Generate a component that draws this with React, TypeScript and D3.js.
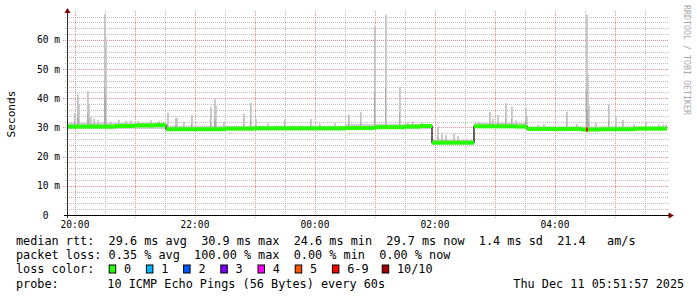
import React from "react";
import * as d3 from "d3";

// ---- data (ms) ----
const START = "19:52";
const END = "05:52";

// median rtt steps: [start time, median ms]
const medianTimes = ["19:52","20:40","21:00","21:20","21:31","22:30","23:00","00:30","01:00","01:30","01:45","01:57","02:39","03:20","03:32","04:26","04:45","05:20"];
const medianValues = [30.3, 30.5, 30.7, 30.8, 29.4, 29.6, 29.7, 29.8, 30.1, 30.3, 30.5, 24.8, 30.4, 30.3, 29.5, 29.3, 29.4, 29.6];

// smoke band (min/max of pings) per period
const bandTimes = ["19:52","21:31","00:30","01:57","02:39","03:32"];
const bandLo = [29.5, 29.0, 29.4, 24.2, 29.8, 29.0];
const bandHi = [31.6, 30.6, 31.2, 25.8, 31.6, 30.4];

// smoke spikes: time, max ping ms
const spikeTimes = ["19:59","20:02","20:03","20:12","20:13","20:15","20:18","20:22","20:29","20:30","20:35","20:43","20:50","20:55","21:02","21:15","21:23","21:32","21:40","21:41","21:48","21:56","22:15","22:19","22:20","22:28","22:48","22:55","23:00","23:12","23:29","23:55","00:04","00:19","00:33","00:45","00:59","01:10","01:24","01:32","01:37","01:46","02:02","02:06","02:10","02:18","02:22","02:31","02:43","02:54","02:57","03:02","03:10","03:16","03:20","03:30","03:31","03:42","03:48","04:11","04:21","04:31","04:32","04:33","04:40","04:53","05:00","05:07","05:18","05:30","05:43","05:47","05:50"];
const spikeValues = [35.0, 41.4, 38.0, 42.5, 38.0, 33.5, 33.0, 32.5, 68.8, 60.6, 32.0, 32.6, 32.3, 32.4, 32.2, 32.5, 32.2, 35.1, 33.2, 33.4, 32.0, 34.3, 37.1, 39.7, 37.5, 32.0, 34.7, 38.5, 33.0, 31.4, 32.8, 32.9, 31.4, 31.4, 34.5, 35.2, 64.6, 68.6, 44.0, 32.0, 32.0, 31.6, 30.3, 28.0, 27.5, 28.0, 27.0, 26.0, 32.0, 35.4, 33.0, 34.3, 38.3, 37.1, 32.5, 36.8, 34.0, 30.9, 31.2, 35.4, 31.2, 68.6, 48.3, 37.4, 31.5, 37.9, 33.7, 32.6, 31.0, 32.0, 31.0, 31.0, 31.0];

// loss markers on median
const lossTimes = ["04:31"];
const lossLevels = [6];

const yTicksMajor = [0, 10, 20, 30, 40, 50, 60];

const lossLabels = ["0", "1", "2", "3", "4", "5", "6-9", "10/10"];
const lossColors = ["#26ff00", "#00b8ff", "#0059ff", "#7e00ff", "#ff00ff", "#ff5500", "#ff0000", "#a10000"];

const statsLine1 = "median rtt:  29.6 ms avg  30.9 ms max  24.6 ms min  29.7 ms now  1.4 ms sd  21.4   am/s";
const statsLine2 = "packet loss: 0.35 % avg  100.00 % max  0.00 % min  0.00 % now";
const probeLabel = "probe:";
const probeText = "10 ICMP Echo Pings (56 Bytes) every 60s";
const dateText = "Thu Dec 11 05:51:57 2025";

const parseT = (s: string) => {
  const [h, m] = s.split(":").map(Number);
  const day = h >= 12 ? 10 : 11;
  return new Date(Date.UTC(2025, 11, day, h, m));
};

const W = 697, H = 297;
const mono = "'DejaVu Sans Mono', monospace";

export default function App() {
  const t0 = parseT(START), t1 = parseT(END);
  const x = d3.scaleUtc().domain([t0, t1]).range([67, 667]);
  const y = d3.scaleLinear().domain([0, 70]).range([215, 10.8]);
  const minute = (d: Date) => new Date(d.getTime() + 60000);

  const minorY = y.ticks(35).filter((v) => v % 10 !== 0 && v < 70);
  const majorY = y.ticks(7).filter((v) => v > 0 && v < 70);
  const minorX = x.ticks(d3.utcMinute.every(30)!).filter((d) => d.getUTCMinutes() !== 0);
  const majorX = x.ticks(d3.utcHour.every(1)!);
  const labelX = x.ticks(d3.utcHour.every(2)!);

  const medT = medianTimes.map(parseT);
  const bT = bandTimes.map(parseT);
  const segEnd = (arr: Date[], i: number) => (i + 1 < arr.length ? arr[i + 1] : t1);
  const bandAt = (d: Date) => {
    let idx = 0;
    bT.forEach((b, i) => { if (b <= d) idx = i; });
    return idx;
  };
  const medAt = (d: Date) => {
    let idx = 0;
    medT.forEach((b, i) => { if (b <= d) idx = i; });
    return medianValues[idx];
  };

  const medPts: [Date, number][] = medT.map((d, i) => [d, medianValues[i]]);
  medPts.push([t1, medianValues[medianValues.length - 1]]);
  const medLine = d3.line<[Date, number]>().x((p) => x(p[0])).y((p) => y(p[1])).curve(d3.curveStepAfter)(medPts) || "";

  const fmtX = d3.utcFormat("%H:%M");
  const halfBand = 2;
  const pre = { whiteSpace: "pre" } as React.CSSProperties;

  return (
    <svg width={W} height={H} style={{ position: "absolute", left: 0, top: 0, background: "#fff" }}>
      <rect x={0} y={0} width={W} height={H} fill="#fff" />
      {/* minor grid */}
      <g stroke="#bdbdbd" strokeWidth={1} strokeDasharray="1,1">
        {minorY.map((v) => (
          <line key={"my" + v} x1={65} x2={668} y1={Math.round(y(v)) + 0.5} y2={Math.round(y(v)) + 0.5} />
        ))}
        {minorX.map((d) => (
          <line key={"mx" + d.getTime()} x1={Math.round(x(d)) + 0.5} x2={Math.round(x(d)) + 0.5} y1={11} y2={217} />
        ))}
      </g>
      {/* major grid */}
      <g stroke="#ee9090" strokeWidth={1} strokeDasharray="1,1">
        {majorY.map((v) => (
          <line key={"My" + v} x1={63} x2={668} y1={Math.round(y(v)) + 0.5} y2={Math.round(y(v)) + 0.5} />
        ))}
        {majorX.map((d) => (
          <line key={"Mx" + d.getTime()} x1={Math.round(x(d)) + 0.5} x2={Math.round(x(d)) + 0.5} y1={11} y2={219} />
        ))}
      </g>

      {/* smoke band */}
      <g fill="#cfcfcf">
        {bT.map((d, i) => (
          <rect key={"b" + i} x={x(d)} width={x(segEnd(bT, i)) - x(d)} y={y(bandHi[i])} height={y(bandLo[i]) - y(bandHi[i])} />
        ))}
      </g>
      {/* smoke spikes */}
      <g>
        {spikeTimes.map((s, i) => {
          const d = parseT(s);
          const bi = bandAt(d);
          const base = Math.min(bandHi[bi], medAt(d));
          const top = spikeValues[i];
          const x0 = x(d), x1 = x(minute(d));
          const mid = Math.min(top, base + (top - base) * 0.35);
          return (
            <g key={"s" + i}>
              <rect x={x0} width={x1 - x0 + 0.8} y={y(top)} height={y(base) - y(top)} fill="#c4c4c4" />
              <rect x={x0} width={x1 - x0} y={y(mid)} height={y(base) - y(mid)} fill="#ababab" />
            </g>
          );
        })}
      </g>

      {/* median line */}
      <path d={medLine} fill="none" stroke="#000" strokeWidth={1.2} />
      {/* loss-colored median band */}
      <g fill={lossColors[0]}>
        {medT.map((d, i) => (
          <rect key={"m" + i} x={x(d)} width={x(segEnd(medT, i)) - x(d)} y={y(medianValues[i]) - halfBand} height={halfBand * 2} />
        ))}
      </g>
      {lossTimes.map((s, i) => {
        const d = parseT(s);
        const v = medAt(d);
        return <rect key={"l" + i} x={x(d)} width={x(minute(minute(d))) - x(d)} y={y(v) - halfBand} height={halfBand * 2} fill={lossColors[lossLevels[i]]} />;
      })}

      {/* axes */}
      <line x1={67.5} x2={67.5} y1={12} y2={218} stroke="#2c2c2c" strokeWidth={1} />
      <line x1={64} x2={669} y1={215.5} y2={215.5} stroke="#000" strokeWidth={1} />
      <path d="M67.5,8 L70.5,13 L64.5,13 Z" fill="#7f0000" />
      <path d="M674,215.5 L668.5,212.5 L668.5,218.5 Z" fill="#7f0000" />

      {/* y labels */}
      <g fontFamily={mono} fontSize={9.6} fill="#000" textAnchor="end">
        {yTicksMajor.map((v) => (
          <text key={"yl" + v} x={60} y={y(v) + 3.5} xmlSpace="preserve" style={pre}>
            {v === 0 ? "0  " : `${v} m`}
          </text>
        ))}
      </g>
      {/* x labels */}
      <g fontFamily={mono} fontSize={9.6} fill="#000" textAnchor="middle">
        {labelX.map((d) => (
          <text key={"xl" + d.getTime()} x={x(d)} y={228}>{fmtX(d)}</text>
        ))}
      </g>
      <text transform="translate(15,114) rotate(-90)" fontFamily={mono} fontSize={11.2} textAnchor="middle" fill="#000">Seconds</text>
      <text transform="translate(684,5) rotate(90)" fontFamily={mono} fontSize={8.3} fill="#a8a8a8">RRDTOOL / TOBI OETIKER</text>

      {/* legend */}
      <g fontFamily={mono} fontSize={11.83} fill="#000">
        <text x={16} y={245} xmlSpace="preserve" style={pre}>{statsLine1}</text>
        <text x={16} y={259} xmlSpace="preserve" style={pre}>{statsLine2}</text>
        <text x={16} y={273}>loss color:</text>
        {lossLabels.map((lab, i) => {
          const bx = i < 7 ? 108.7 + i * 37.2 : 381.7;
          return (
            <g key={"lg" + i}>
              <rect x={bx + 0.5} y={265} width={6.5} height={8} fill={lossColors[i]} stroke="#000" strokeWidth={1} />
              <text x={bx + 15.3} y={273}>{lab}</text>
            </g>
          );
        })}
        <text x={16} y={287.5}>{probeLabel}</text>
        <text x={107.3} y={287.5}>{probeText}</text>
        <text x={513.3} y={287.5}>{dateText}</text>
      </g>
    </svg>
  );
}
